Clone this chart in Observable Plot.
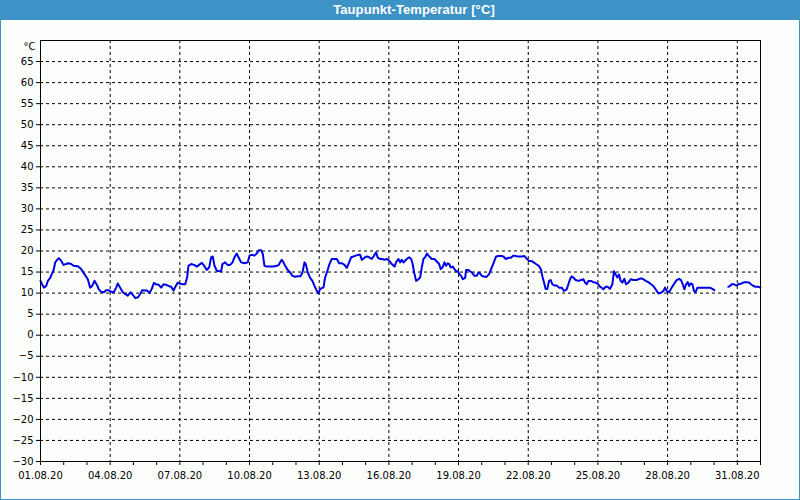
<!DOCTYPE html>
<html><head><meta charset="utf-8">
<script src="https://cdn.jsdelivr.net/npm/d3@7"></script>
<script src="https://cdn.jsdelivr.net/npm/@observablehq/plot@0.6"></script>
<style>
html,body{margin:0;padding:0;background:#fcfefc;}
#wrap{position:relative;width:800px;height:500px;overflow:hidden;background:#fcfefc;}
#chart{position:absolute;left:0;top:0;}
#title{position:absolute;left:0;top:0;width:800px;height:20px;box-sizing:border-box;padding-left:28px;text-align:center;background:#3d92c6;color:#fff;font:bold 13px "Liberation Sans",sans-serif;letter-spacing:0.1px;line-height:20px;}
#border{position:absolute;left:0;top:0;width:800px;height:500px;box-sizing:border-box;border:1px solid #3d92c6;pointer-events:none;}
</style></head><body>
<div id="wrap"><div id="chart"></div><div id="title">Taupunkt-Temperatur [°C]</div><div id="border"></div></div>
<script>
const startDate = "2020-08-01T00:00Z";
const endDate = "2020-09-01T00:00Z";
const unitLabel = "°C";
const yTickValues = [-30,-25,-20,-15,-10,-5,0,5,10,15,20,25,30,35,40,45,50,55,60,65];
const xLabelDays = ["01.08.20","04.08.20","07.08.20","10.08.20","13.08.20","16.08.20","19.08.20","22.08.20","25.08.20","28.08.20","31.08.20"];
// hours since 01.08.20 00:00
const hoursSinceStart = [
0,3.4,5.9,7.6,10,11.7,13.8,15.2,17.2,18.9,21.3,23.8,26.5,28.9,31.7,34.1,38.6,42,45.4,48.9,51.3,53.4,55.8,58.2,60.3,62.7,65.4,67.8,70.2,73,75.7,78.2,79.9,82.3,85,87.5,90.2,93,95.4,98.1,100.8,103.3,105.1,107.5,110.2,112.6,115,117.1,119.5,
121.9,124.7,127.1,129.5,132.2,135,137.4,139.8,141.9,144.3,146.7,149.5,151.5,152.9,155.7,158.8,161.5,163.9,166.7,169.1,171.8,174.3,176.3,178,179.8,182.2,184.9,186.6,188,190.8,193.2,196,198.4,200.4,202.8,204.6,207.3,210.8,214.2,215.9,218.3,221.1,223.5,225.9,228,229.7,231.4,233.8,237.3,240.7,244.2,
245.9,247.6,249.3,251.1,252.8,255.5,258,260.4,263.1,265.9,268.6,270.7,272.8,274.1,276.2,278.6,281,283.1,285.2,287.2,289,290.7,292.4,294.1,296.5,298.6,301,303.8,306.2,308.6,311.3,314.1,316.5,318.9,321,323.4,325.8,328.6,330.3,332,334.8,337.2,339.6,342.3,344.7,346.8,348.5,351,353.4,355.4,357.8,360.2,363,365.8,367.8,369.9,
371.6,373.3,375.1,376.8,378.5,380.9,383,384.4,386.1,388.2,390.6,392.3,394,395.7,397.5,399.2,400.9,402.6,404.3,407.1,409.5,411.9,413.6,415.4,417.4,419.1,420.9,422.2,424,426,427.8,429.5,431.2,432.9,434.6,436.4,438.8,439.8,442.2,443.9,445.7,448.4,450.8,452.6,454.3,456,458.8,461.2,463.6,465.6,467.4,469.1,470.8,473.2,476,478.4,480.8,483.5,486,488.7,491.1,493.2,
497.2,500,502.4,504.8,507.6,510.3,512.7,515.2,517.2,518.6,520.3,522,523.8,525.5,527.2,528.9,531,533.4,535.8,538.6,541,543.7,545.5,547.2,548.9,550.6,553,555.8,558.5,561,562.7,564.4,566.1,568.9,571.3,573.7,576.4,578.2,579.9,581.6,584,586.1,588.5,590.9,592.6,594.4,596.1,597.8,599.5,601.3,603.3,605,607.5,609.9,612.6,616.1,
617.8,620.6,623,625.4,628.1,630.9,633.3,635.7,638.5,641.2,643.6,645.4,647.1,649.5,652.2,655,657.4,659.8,661.9,663.6,665.3,667.1,668.8,670.2,671.9,673.6,675.3,677,678.8,681.5,685,688.4,691.8,694.3,696.3,
703,
710.8,712.5,714.2,716.6,718.7,721.1,724.6,727.3,729.7,732.1,734.2,736.6,739,741.8,743.9];
const dewPoint = [
12.9,11.3,11.7,12.9,13.6,14.5,15.7,17.3,17.9,18.3,17.7,16.7,16.9,17.1,16.9,16.5,16.4,15.7,14.5,13.3,11.3,11.7,12.9,12.0,10.9,10.3,10.2,10.7,10.7,10.3,10.2,11.3,12.3,11.3,10.2,9.8,9.4,10.2,9.6,8.8,9.0,9.9,10.7,10.6,10.6,10.0,11.0,12.4,12.1,
12.0,11.3,12.1,12.0,11.7,11.5,10.6,11.7,12.5,12.2,12.1,12.1,13.7,16.5,16.9,16.7,16.3,16.7,17.2,16.5,15.5,16.1,18.5,18.7,16.5,15.3,15.2,15.2,16.9,17.3,16.7,16.7,17.3,18.5,19.4,18.5,17.3,17.1,17.3,18.9,19.1,18.9,19.4,20.2,20.2,19.3,16.5,16.3,16.3,16.3,16.5,
16.6,17.3,17.9,17.3,16.5,15.5,14.9,14.1,13.9,14.0,14.0,14.9,17.3,16.9,14.9,13.6,12.9,11.7,10.7,9.9,11.0,11.2,11.3,13.7,15.3,16.9,18.1,18.1,18.1,17.1,17.1,16.7,16.0,17.3,18.5,18.7,18.9,19.1,19.1,17.9,18.4,18.7,18.5,18.1,18.9,19.7,18.4,18.1,18.1,17.9,18.1,17.7,16.9,16.3,17.5,18.1,
17.3,17.9,17.3,17.7,18.1,18.5,18.1,17.1,14.9,12.9,13.3,13.7,16.1,18.1,18.5,19.4,18.9,18.5,18.1,18.1,17.5,16.9,15.7,16.1,17.3,16.5,17.1,16.9,16.1,16.3,15.7,15.2,15.2,14.5,14.1,13.3,13.6,15.5,15.5,15.2,14.9,14.1,14.1,14.9,14.6,14.1,13.9,13.9,14.5,15.7,16.7,17.7,18.7,18.8,18.8,18.7,18.1,18.4,18.4,18.9,18.8,18.7,
18.7,18.8,18.2,17.6,17.6,17.2,16.8,16.4,15.6,14.0,12.5,11.0,11.0,12.9,13.1,12.1,11.8,11.8,11.3,11.3,10.5,10.9,12.1,13.3,14.0,13.7,13.1,12.9,13.1,13.3,12.5,12.1,12.9,12.9,12.6,12.5,12.1,11.5,11.3,10.9,11.5,11.5,11.0,12.1,15.2,14.4,13.7,14.4,12.9,12.5,13.4,12.1,12.5,13.3,13.1,13.1,
13.3,13.5,13.3,12.9,12.6,12.1,11.7,10.9,9.9,10.1,10.5,11.3,10.5,10.2,11.3,12.3,13.1,13.4,13.1,12.1,10.9,12.1,12.6,11.7,12.3,12.1,10.5,10.2,11.3,11.3,11.3,11.3,11.3,11.0,10.7,
null,
11.5,11.7,12.1,12.1,11.8,12.1,12.3,12.6,12.6,12.5,12.1,11.7,11.5,11.5,11.3];

const t0 = new Date(startDate).getTime();
const data = hoursSinceStart.map((h, i) => ({t: new Date(t0 + h * 3600e3), v: dewPoint[i]}));
const parseDay = d3.utcParse("%d.%m.%y");
const labelDates = xLabelDays.map(parseDay);
const labelSet = new Set(labelDates.map(d => +d));
const dayTicks = d3.utcDay.range(new Date(startDate), new Date(new Date(endDate).getTime() + 1));
const fmt = d3.utcFormat("%d.%m.%y");
const gridY = yTickValues.filter(v => v > -30);

const chart = Plot.plot({
  width: 800,
  height: 500,
  marginTop: 40,
  marginBottom: 39,
  marginLeft: 40,
  marginRight: 40,
  style: {fontFamily: "'DejaVu Sans', sans-serif", fontSize: "10px", background: "transparent", color: "black"},
  x: {type: "utc", domain: [new Date(startDate), new Date(endDate)]},
  y: {domain: [-30, 70]},
  marks: [
    Plot.ruleY(gridY, {stroke: "black", strokeDasharray: "3,3", strokeWidth: 1}),
    Plot.ruleX(labelDates.slice(1), {stroke: "black", strokeDasharray: "3,3", strokeWidth: 1}),
    Plot.line(data, {x: "t", y: "v", stroke: "#0000e6", strokeWidth: 2}),
    Plot.frame({stroke: "black"}),
    Plot.axisY(yTickValues, {tickSize: 4, tickPadding: 3, label: null, fill: "black"}),
    Plot.text([70], {x: () => new Date(startDate), y: d => d, text: () => unitLabel, textAnchor: "end", dx: -5, dy: 6, fill: "black"}),
    Plot.axisX(dayTicks, {tickSize: 4, tickPadding: 6, label: null, fill: "black",
      tickFormat: d => labelSet.has(+d) ? fmt(d) : null})
  ]
});
document.getElementById("chart").appendChild(chart);
</script>
</body></html>
